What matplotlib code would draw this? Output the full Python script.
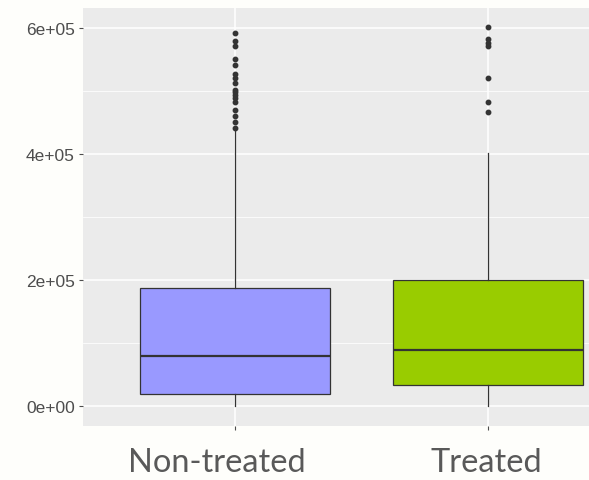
import matplotlib.pyplot as plt
from matplotlib.ticker import MultipleLocator

# data (values in units of 1)
groups = ["Non-treated", "Treated"]
colors = ["#9999FF", "#99CC00"]
q1 = [19500, 33300]
med = [80000, 88400]
q3 = [186800, 200500]
whislo = [0, 0]
whishi = [437000, 401000]
fliers_nt = [592000, 580000, 572000, 550000, 542000, 527000, 520000, 512000,
             502000, 498000, 493000, 489000, 482000, 470000, 460000, 450000, 441000]
fliers_t = [602000, 583000, 576000, 572000, 521000, 482000, 466000]
fliers = [fliers_nt, fliers_t]

stats = []
for i in range(len(groups)):
    stats.append(dict(med=med[i], q1=q1[i], q3=q3[i], whislo=whislo[i],
                      whishi=whishi[i], fliers=fliers[i], label=groups[i]))

fig = plt.figure(figsize=(5.89, 4.81), dpi=100, facecolor="#fefefb")
ax = fig.add_axes([83 / 589, 54 / 481, 1 - 83 / 589, 418 / 481])
ax.set_facecolor("#EBEBEB")

# ggplot style grid
ax.yaxis.set_major_locator(MultipleLocator(200000))
ax.yaxis.set_minor_locator(MultipleLocator(100000))
ax.grid(which="major", color="white", linewidth=1.1)
ax.grid(which="minor", axis="y", color="white", linewidth=0.55)
ax.set_axisbelow(True)

bp = ax.bxp(stats, positions=[1, 2], widths=0.75, patch_artist=True,
            showcaps=False,
            boxprops=dict(edgecolor="#333333", linewidth=0.9),
            whiskerprops=dict(color="#333333", linewidth=0.9),
            medianprops=dict(color="#333333", linewidth=1.6),
            flierprops=dict(marker="o", markerfacecolor="#333333",
                            markeredgecolor="#333333", markersize=3.2))
for patch, c in zip(bp["boxes"], colors):
    patch.set_facecolor(c)

ax.set_xlim(0.4, 2.4)
ax.set_ylim(-31700, 631700)
ax.set_yticks([0, 200000, 400000, 600000])
ax.set_yticklabels(["0e+00", "2e+05", "4e+05", "6e+05"],
                   family="Liberation Sans", fontsize=12.5, color="#4D4D4D")
ax.set_xticks([1, 2])
ax.set_xticklabels([])
ax.tick_params(which="major", length=3, width=0.8, color="#4D4D4D", pad=3)
ax.tick_params(which="minor", length=0)
for s in ax.spines.values():
    s.set_visible(False)

# big category labels underneath
fig.text(217 / 589, 1 - 463 / 481, groups[0], ha="center", va="center",
         fontsize=23.5, color="#595959", family="Lato")
fig.text(486 / 589, 1 - 463 / 481, groups[1], ha="center", va="center",
         fontsize=23.5, color="#595959", family="Lato")

fig.savefig("out.png", dpi=100, facecolor=fig.get_facecolor())
